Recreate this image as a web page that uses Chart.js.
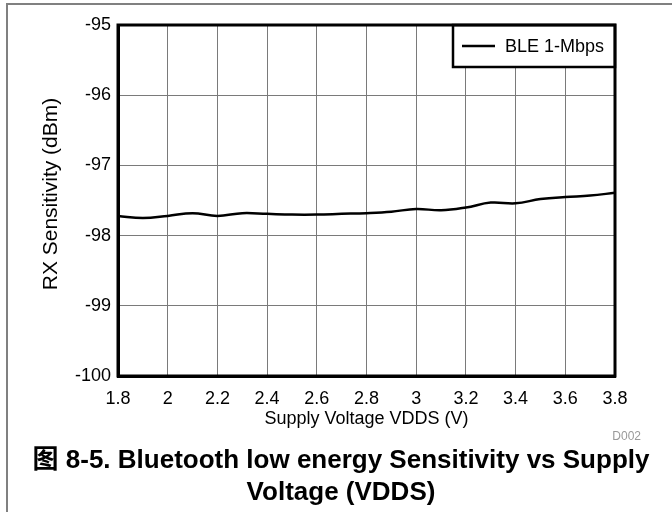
<!DOCTYPE html>
<html>
<head>
<meta charset="utf-8">
<script src="https://cdn.jsdelivr.net/npm/chart.js@4/dist/chart.umd.min.js"></script>
<style>
html,body{margin:0;padding:0;background:#fff;}
canvas{display:block;}
</style>
</head>
<body>
<canvas id="c" width="672" height="512"></canvas>
<script>
const voltages = [1.8,1.9,2.0,2.1,2.2,2.3,2.4,2.5,2.6,2.7,2.8,2.9,3.0,3.1,3.2,3.3,3.4,3.5,3.6,3.7,3.8];
const sensitivity = [-97.72,-97.75,-97.72,-97.68,-97.72,-97.68,-97.69,-97.70,-97.70,-97.69,-97.68,-97.66,-97.62,-97.64,-97.60,-97.53,-97.54,-97.48,-97.45,-97.43,-97.39];
const xTickValues = [1.8,2.0,2.2,2.4,2.6,2.8,3.0,3.2,3.4,3.6,3.8];
const seriesLabel = 'BLE 1-Mbps';
const xTitle = 'Supply Voltage VDDS (V)';
const yTitle = 'RX Sensitivity (dBm)';
const titleLines = ['图 8-5. Bluetooth low energy Sensitivity vs Supply', 'Voltage (VDDS)'];
const noteText = 'D002';

const FONT = "'Liberation Sans', Arial, 'Noto Sans CJK SC', sans-serif";

const decor = {
  id: 'decor',
  beforeDraw(chart) {
    const ctx = chart.ctx;
    ctx.save();
    ctx.fillStyle = '#fff';
    ctx.fillRect(0, 0, chart.width, chart.height);
    ctx.strokeStyle = '#808080';
    ctx.lineWidth = 2;
    ctx.beginPath();
    ctx.moveTo(7, 512);
    ctx.lineTo(7, 4);
    ctx.lineTo(672, 4);
    ctx.stroke();
    ctx.restore();
  },
  afterDatasetsDraw(chart) {
    const ctx = chart.ctx;
    const a = chart.chartArea;
    ctx.save();
    const lx = 453, ly = a.top, lw = a.right - 453, lh = 42;
    ctx.fillStyle = '#fff';
    ctx.fillRect(lx, ly, lw, lh);
    ctx.strokeStyle = '#000';
    ctx.lineWidth = 2.5;
    ctx.strokeRect(lx, ly, lw, lh);
    ctx.beginPath();
    ctx.moveTo(462, ly + lh / 2);
    ctx.lineTo(495, ly + lh / 2);
    ctx.stroke();
    ctx.fillStyle = '#000';
    ctx.font = '18px ' + FONT;
    ctx.textBaseline = 'middle';
    ctx.textAlign = 'left';
    ctx.fillText(chart.data.datasets[0].label, 505, ly + lh / 2 + 1);
    ctx.lineWidth = 3;
    ctx.strokeRect(a.left, a.top, a.right - a.left, a.bottom - a.top);
    // y axis title
    ctx.save();
    ctx.translate(51, 194);
    ctx.rotate(-Math.PI / 2);
    ctx.font = '21px ' + FONT;
    ctx.textAlign = 'center';
    ctx.textBaseline = 'middle';
    ctx.fillText(yTitle, 0, 0);
    ctx.restore();
    ctx.fillStyle = '#999';
    ctx.font = '12px ' + FONT;
    ctx.textAlign = 'right';
    ctx.textBaseline = 'middle';
    ctx.fillText(noteText, 641, 437);
    ctx.fillStyle = '#000';
    ctx.font = 'bold 26px ' + FONT;
    ctx.textAlign = 'center';
    ctx.textBaseline = 'alphabetic';
    ctx.fillText(titleLines[0], 341, 468);
    ctx.fillText(titleLines[1], 341, 500);
    ctx.restore();
  }
};

new Chart(document.getElementById('c'), {
  type: 'line',
  data: {
    labels: voltages,
    datasets: [{
      label: seriesLabel,
      data: voltages.map((v, i) => ({x: v, y: sensitivity[i]})),
      borderColor: '#000',
      borderWidth: 2.5,
      pointRadius: 0,
      tension: 0.4,
      fill: false
    }]
  },
  options: {
    responsive: false,
    animation: false,
    devicePixelRatio: 1,
    layout: {padding: {left: 8, right: 57, top: 25, bottom: 0}},
    plugins: {legend: {display: false}, title: {display: false}, tooltip: {enabled: false}},
    scales: {
      x: {
        type: 'linear',
        min: 1.8, max: 3.8,
        afterFit(s) { s.height = 136; },
        afterBuildTicks(s) { s.ticks = xTickValues.map(v => ({value: v})); },
        ticks: {color: '#000', font: {family: FONT, size: 18}, padding: 12, maxRotation: 0,
                callback: v => String(Math.round(v * 10) / 10)},
        grid: {color: '#7a7a7a', lineWidth: 1, drawTicks: false},
        border: {color: '#000', width: 3},
        title: {display: true, text: xTitle, color: '#000', font: {family: FONT, size: 18}, padding: {top: 0, bottom: 82}}
      },
      y: {
        min: -100, max: -95,
        afterFit(s) { s.width = 110; },
        ticks: {stepSize: 1, color: '#000', font: {family: FONT, size: 18}, padding: 7},
        grid: {color: '#7a7a7a', lineWidth: 1, drawTicks: false},
        border: {color: '#000', width: 3},
        title: {display: false}
      }
    }
  },
  plugins: [decor]
});
</script>
</body>
</html>
